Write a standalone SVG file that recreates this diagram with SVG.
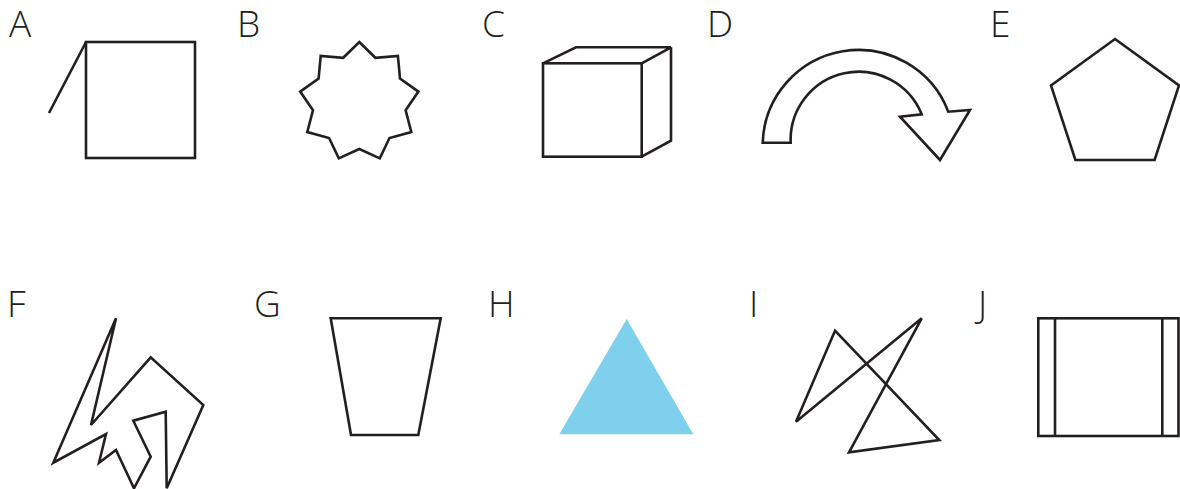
<svg xmlns="http://www.w3.org/2000/svg" width="1180" height="489" viewBox="0 0 1180 489">
<style>
.s{fill:none;stroke:#231f20;stroke-width:2.6;stroke-linejoin:miter;stroke-linecap:butt}
.l{font-family:"Open Sans","Noto Sans","Liberation Sans",sans-serif;font-size:37px;font-weight:300;fill:#231f20}
</style>
<rect width="1180" height="489" fill="#fff"/>
<g id="A">
<text class="l" x="9" y="37">A</text>
<rect class="s" x="86" y="42" width="109" height="116"/>
<line class="s" x1="86" y1="42" x2="49" y2="113"/>
</g>
<g id="B">
<text class="l" x="237" y="37">B</text>
<polygon class="s" points="359.3,42 375.4,57.8 397.9,56 400,78.5 418.4,91.6 405.6,110.2 411.3,132 389.5,138 379.8,158.4 359.3,149 338.8,158.4 329.1,138 307.3,132 313,110.2 300.2,91.6 318.6,78.5 320.7,56 343.2,57.8"/>
</g>
<g id="C">
<text class="l" x="482" y="37">C</text>
<rect class="s" x="543" y="63.3" width="98.7" height="93.4"/>
<polyline class="s" points="543,63.3 576,47.3 671,47.3 641.7,63.3"/>
<polyline class="s" points="671,47.3 671,140.7 641.7,156.7"/>
</g>
<g id="D">
<text class="l" x="707" y="37">D</text>
<path class="s" d="M762.7,142.7 A96,96 0 0 1 948.3,111.7 L970,110 L940,160 L900,116.7 L921.7,114.3 A68,68 0 0 0 790.7,142.7 Z"/>
</g>
<g id="E">
<text class="l" x="990" y="37">E</text>
<polygon class="s" points="1115,39 1179,85.5 1154.6,160 1075.4,160 1051,85.5"/>
</g>
<g id="F">
<text class="l" x="7" y="317">F</text>
<polygon class="s" points="116,318.3 53.3,462.7 106,434 99,462.7 116,450 134,488.3 150.7,456.7 133.3,420.7 165.7,411.7 166.7,488.3 203.3,405 150.7,357.3 91,425"/>
</g>
<g id="G">
<text class="l" x="254" y="317">G</text>
<polygon class="s" points="330.7,318.3 440.7,318.3 418.3,435 351,435"/>
</g>
<g id="H">
<text class="l" x="488" y="317">H</text>
<polygon points="626.7,319 693.3,434.3 559.3,434.3" fill="#7fd0ec"/>
</g>
<g id="I">
<text class="l" x="749" y="317">I</text>
<polygon class="s" points="835,330.7 939.3,440 849,452.3 921.7,318.3 796,421.7"/>
</g>
<g id="J">
<text class="l" x="978" y="317">J</text>
<rect class="s" x="1038.3" y="318.3" width="140.2" height="117.7"/>
<line class="s" x1="1055" y1="318.3" x2="1055" y2="436"/>
<line class="s" x1="1162.3" y1="318.3" x2="1162.3" y2="436"/>
</g>
<g id="connectors"></g>
</svg>
